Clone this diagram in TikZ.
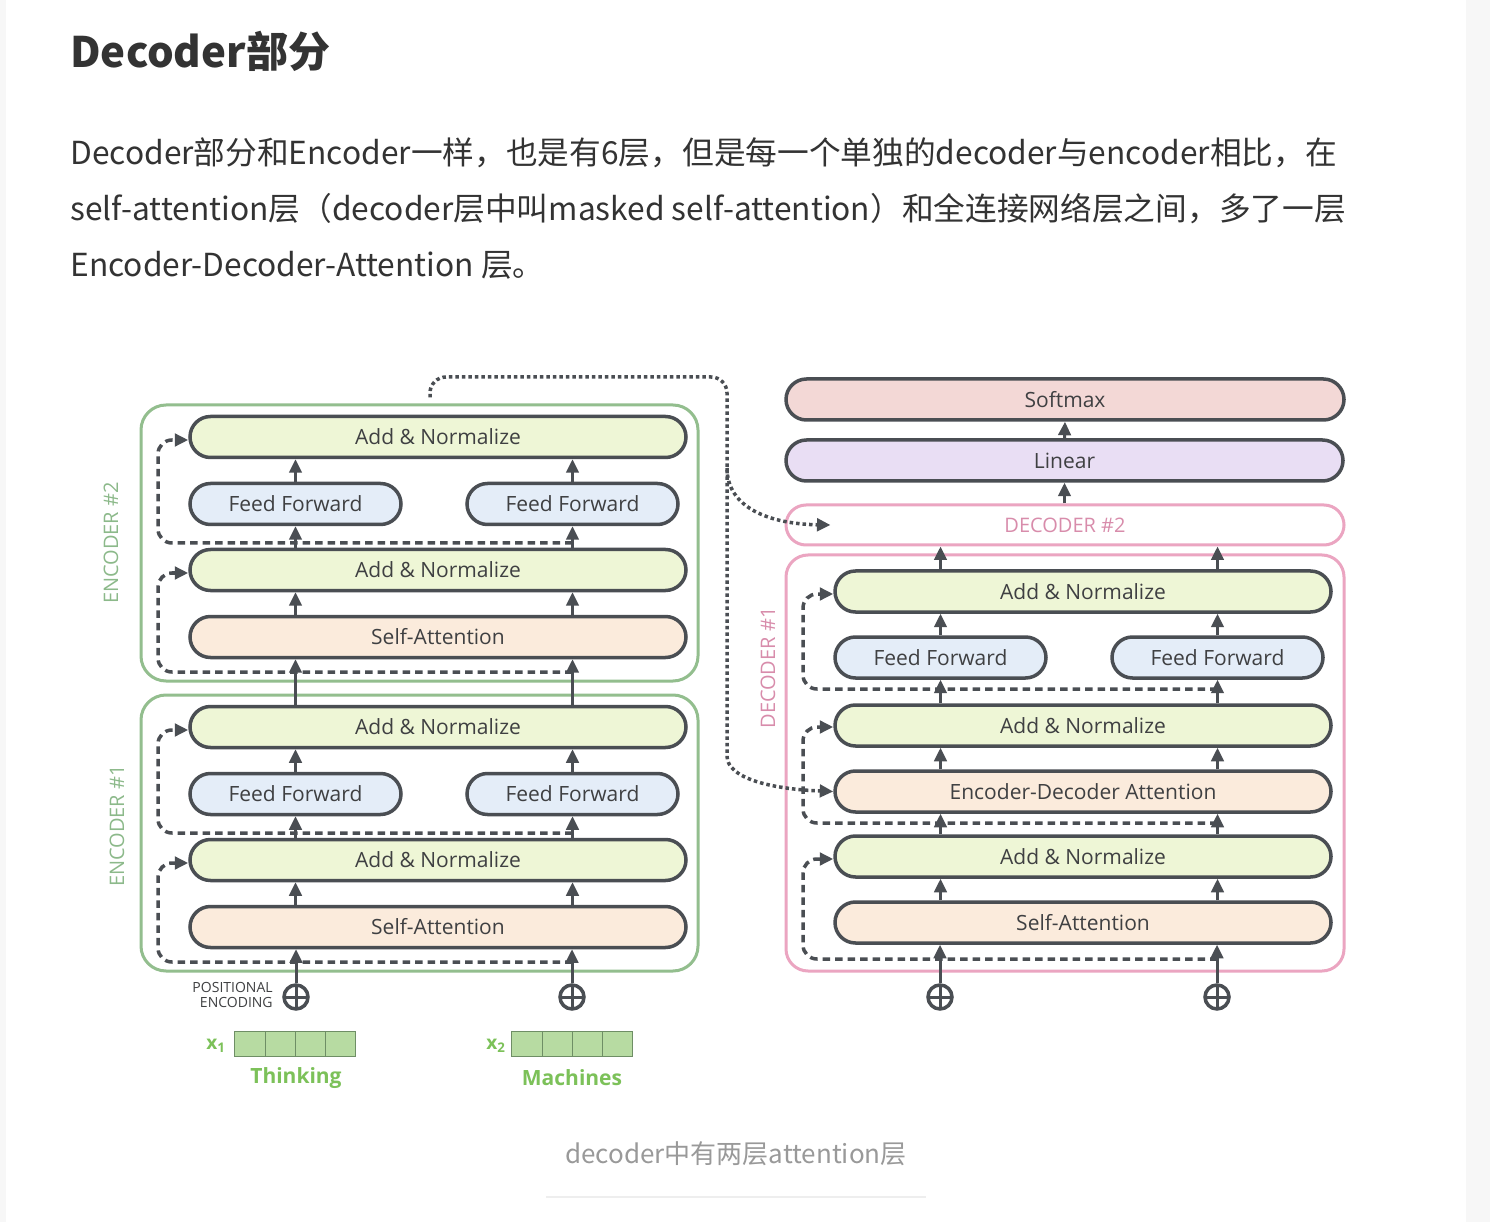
\documentclass[tikz,border=0pt]{standalone}
\usepackage{fontspec}
\setmainfont{Open Sans}
\newfontfamily\cjk{Noto Sans CJK SC}
\usepackage{tikz}
\usetikzlibrary{arrows.meta,shapes.misc}

\newlength{\upx}\setlength{\upx}{0.02cm}
\newcommand{\fpx}[2]{\fontsize{#1\upx}{#2\upx}\selectfont}

\definecolor{dk}{HTML}{4A4E53}
\definecolor{txt}{HTML}{3F4042}
\definecolor{head}{HTML}{333333}
\definecolor{capgray}{HTML}{999999}
\definecolor{rulegray}{HTML}{EEEEEE}
\definecolor{pagegray}{HTML}{F7F7F7}
\definecolor{anfill}{HTML}{EEF6D6}
\definecolor{fffill}{HTML}{E4EDF8}
\definecolor{safill}{HTML}{FBEBDC}
\definecolor{smfill}{HTML}{F3D8D6}
\definecolor{linfill}{HTML}{E9DEF4}
\definecolor{encgreen}{HTML}{93BE8E}
\definecolor{enctext}{HTML}{8CB98A}
\definecolor{decpink}{HTML}{EBA5C1}
\definecolor{dectext}{HTML}{D88CAB}
\definecolor{embfill}{HTML}{B7DBA2}
\definecolor{embline}{HTML}{6E8E65}
\definecolor{wordgreen}{HTML}{7CC159}

\begin{document}
\begin{tikzpicture}[x=0.02cm, y=-0.02cm, >=Stealth,
  layer/.style={rounded rectangle, draw=dk, line width=3.5\upx, inner sep=0pt,
    minimum height=41\upx, text=txt, font=\fpx{21}{25}},
  wide/.style={layer, minimum width=496\upx},
  ffbox/.style={layer, minimum width=211\upx, fill=fffill},
  anbox/.style={wide, fill=anfill},
  attbox/.style={wide, fill=safill},
  stackbox/.style={rectangle, rounded corners=#1, line width=3\upx, inner sep=0pt},
  flow/.style={draw=dk, line width=3\upx, -{Triangle[length=0.27cm,width=0.25cm]}},
  resid/.style={flow, line width=3.5\upx, dash pattern=on 7.5\upx off 5\upx, rounded corners=14\upx},
  xlink/.style={flow, line width=3.5\upx, dash pattern=on 3.5\upx off 3\upx, rounded corners=16\upx},
  posenc/.style={circle, draw=dk, line width=3.5\upx, minimum size=24\upx, inner sep=0pt,
    path picture={\draw[dk, line width=3\upx]
      (path picture bounding box.north) -- (path picture bounding box.south)
      (path picture bounding box.west) -- (path picture bounding box.east);}},
  embcell/.style={rectangle, draw=embline, line width=1\upx, fill=embfill,
    minimum width=30.25\upx, minimum height=25\upx, inner sep=0pt},
]
  % page
  \useasboundingbox (0,0) rectangle (1490,1222);
  \fill[white] (0,0) rectangle (1490,1222);
  \fill[pagegray] (0,0) rectangle (6,1222);
  \fill[pagegray] (1466,0) rectangle (1490,1222);

  % article text
  \node[anchor=base west, inner sep=0pt, text=head, font=\cjk\bfseries\fpx{42}{50}] (title) at (70,68) {Decoder部分};
  \node[anchor=base west, inner sep=0pt, text=head, font=\cjk\fpx{31.7}{40}] (line-1) at (70,165) {Decoder部分和Encoder一样，也是有6层，但是每一个单独的decoder与encoder相比，在};
  \node[anchor=base west, inner sep=0pt, text=head, font=\cjk\fpx{31.7}{40}] (line-2) at (70,221) {self-attention层（decoder层中叫masked self-attention）和全连接网络层之间，多了一层};
  \node[anchor=base west, inner sep=0pt, text=head, font=\cjk\fpx{31.7}{40}] (line-3) at (70,277) {Encoder-Decoder-Attention 层。};

  % encoder stack
  \foreach \i/\oy/\lx/\ly in {1/290/117/826, 2/0/111/543} {
    \node[stackbox=25\upx, draw=encgreen, minimum width=557\upx, minimum height=276\upx] (enc-\i) at (419.5,543+\oy) {};
    \node[rotate=90, text=enctext, font=\fpx{20}{24}] (enc-\i-lab) at (\lx,\ly) {ENCODER \#\i};
    \node[anbox] (e\i-an2) at (438,437+\oy) {Add \& Normalize};
    \node[ffbox] (e\i-ffa) at (295.5,504+\oy) {Feed Forward};
    \node[ffbox] (e\i-ffb) at (572.5,504+\oy) {Feed Forward};
    \node[anbox] (e\i-an1) at (438,570+\oy) {Add \& Normalize};
    \node[attbox] (e\i-sa) at (438,637+\oy) {Self-Attention};
    \coordinate (e\i-r2) at (572.5,543+\oy);
    \coordinate (e\i-r1) at (572.5,672+\oy);
    \draw[resid] (e\i-r2) -- (158,543+\oy) -- (158,440+\oy) -- (e\i-an2.west |- 0,440+\oy);
    \draw[resid] (e\i-r1) -- (158,672+\oy) -- (158,573+\oy) -- (e\i-an1.west |- 0,573+\oy);
    \foreach \c in {ffa,ffb} {
      \draw[flow] (e\i-sa.north -| e\i-\c) -- (e\i-an1.south -| e\i-\c);
      \draw[flow] (e\i-an1.north -| e\i-\c) -- (e\i-\c.south);
      \draw[flow] (e\i-\c.north) -- (e\i-an2.south -| e\i-\c);
    }
  }
  \foreach \c in {ffa,ffb} {
    \draw[flow] (e1-an2.north -| e1-\c) -- (e2-sa.south -| e2-\c);
  }

  % inputs
  \node[posenc] (pe-1) at (296,997) {};
  \node[posenc] (pe-2) at (572,997) {};
  \draw[flow] (pe-1) -- (e1-sa.south -| pe-1);
  \draw[flow] (pe-2) -- (e1-sa.south -| pe-2);
  \node[anchor=east, align=right, inner sep=0pt, text=txt, font=\fpx{14}{15}] (pe-lab) at (273,994.5) {POSITIONAL\\ENCODING};
  \foreach \k in {0,...,3} {
    \node[embcell] (x1-\k) at (250.1+30.25*\k,1043.5) {};
    \node[embcell] (x2-\k) at (527.1+30.25*\k,1043.5) {};
  }
  \node[text=wordgreen, font=\bfseries\fpx{19}{22}] (x1-lab) at (216,1046) {x\textsubscript{1}};
  \node[text=wordgreen, font=\bfseries\fpx{19}{22}] (x2-lab) at (496,1046) {x\textsubscript{2}};
  \node[text=wordgreen, font=\bfseries\fpx{21}{25}] (word-1) at (296,1078) {Thinking};
  \node[text=wordgreen, font=\bfseries\fpx{21}{25}] (word-2) at (572,1078) {Machines};

  % decoder stack
  \node[layer, minimum width=558\upx, fill=smfill] (softmax) at (1065,399.5) {Softmax};
  \node[layer, minimum width=557\upx, fill=linfill] (linear) at (1064.5,460.5) {Linear};
  \node[rounded rectangle, draw=decpink, line width=3\upx, minimum width=558\upx, minimum height=40\upx, inner sep=0pt, text=dectext, font=\fpx{20}{24}] (dec-2) at (1065,525) {DECODER \#2};
  \node[stackbox=22\upx, draw=decpink, minimum width=558\upx, minimum height=416\upx] (dec-1) at (1065,763) {};
  \node[rotate=90, text=dectext, font=\fpx{20}{24}] (dec-1-lab) at (768,668) {DECODER \#1};
  \node[anbox] (d-an3) at (1083,591.5) {Add \& Normalize};
  \node[ffbox] (d-ffa) at (940.5,657.5) {Feed Forward};
  \node[ffbox] (d-ffb) at (1217.5,657.5) {Feed Forward};
  \node[anbox] (d-an2) at (1083,725.5) {Add \& Normalize};
  \node[attbox] (d-eda) at (1083,791.5) {Encoder-Decoder Attention};
  \node[anbox] (d-an1) at (1083,856.5) {Add \& Normalize};
  \node[attbox] (d-sa) at (1083,922.5) {Self-Attention};
  \node[posenc] (pe-3) at (940,997) {};
  \node[posenc] (pe-4) at (1217,997) {};
  \coordinate (d-r3) at (1217.5,689);
  \coordinate (d-r2) at (1217.5,823);
  \coordinate (d-r1) at (1217.5,959);
  \draw[resid] (d-r3) -- (803,689) -- (803,594) -- (d-an3.west |- 0,594);
  \draw[resid] (d-r2) -- (803,823) -- (803,727) -- (d-an2.west |- 0,727);
  \draw[resid] (d-r1) -- (803,959) -- (803,859) -- (d-an1.west |- 0,859);
  \foreach \c in {ffa,ffb} {
    \draw[flow] (d-sa.north -| d-\c) -- (d-an1.south -| d-\c);
    \draw[flow] (d-an1.north -| d-\c) -- (d-eda.south -| d-\c);
    \draw[flow] (d-eda.north -| d-\c) -- (d-an2.south -| d-\c);
    \draw[flow] (d-an2.north -| d-\c) -- (d-\c.south);
    \draw[flow] (d-\c.north) -- (d-an3.south -| d-\c);
    \draw[flow] (d-an3.north -| d-\c) -- (dec-2.south -| d-\c);
  }
  \draw[flow] (pe-3) -- (d-sa.south -| pe-3);
  \draw[flow] (pe-4) -- (d-sa.south -| pe-4);
  \draw[flow] (dec-2.north -| linear) -- (linear.south);
  \draw[flow] (linear.north) -- (softmax.south);

  % encoder output into both decoders
  \coordinate (xa-start) at ([xshift=10.5\upx, yshift=6\upx]enc-2.north);
  \coordinate (xa-fork) at (727,468);
  \coordinate (xa-in) at ([xshift=46\upx]dec-2.west);
  \draw[xlink] (xa-start) -- (430,377) -- (727,377) -- (727,740) .. controls (727,778) and (770,789) .. (d-eda.west);
  \draw[xlink] (xa-fork) .. controls (727,508) and (770,524) .. (xa-in);

  % caption
  \node[anchor=base, inner sep=0pt, text=capgray, font=\cjk\fpx{26}{30}] (caption) at (736,1163) {decoder中有两层attention层};
  \draw[rulegray, line width=2\upx] (546,1197) -- (926,1197);
\end{tikzpicture}
\end{document}
